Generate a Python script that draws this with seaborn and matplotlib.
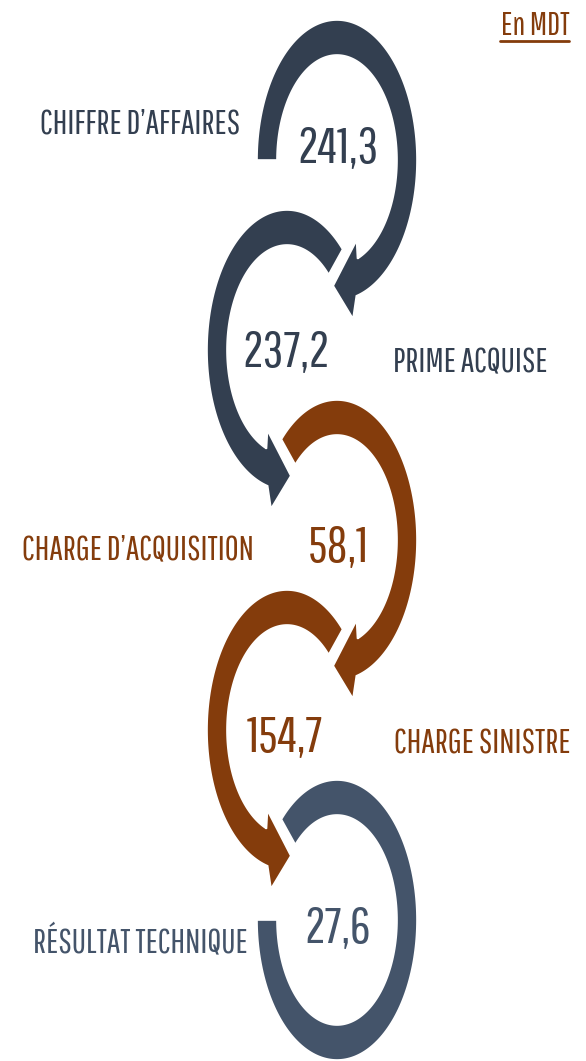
import numpy as np
import matplotlib
matplotlib.use("Agg")
import matplotlib.pyplot as plt
from matplotlib.patches import Polygon
import seaborn as sns

# data
labels = ["CHIFFRE D’AFFAIRES", "PRIME ACQUISE", "CHARGE D’ACQUISITION",
          "CHARGE SINISTRE", "RÉSULTAT TECHNIQUE"]
values = [241.3, 237.2, 58.1, 154.7, 27.6]
unit = "En MDT"

# styling / layout
DARK = "#333F50"
BROWN = "#843C0C"
SLATE = "#44546A"
ring_colors = [DARK, DARK, BROWN, BROWN, SLATE]
text_colors = [DARK, DARK, BROWN, BROWN, SLATE]
centers_x = [337, 287, 337, 287, 337]
centers_y = [160, 350, 540, 730, 920]
directions = [-1, 1, -1, 1, -1]        # -1 clockwise, 1 counter-clockwise
start_ang = [180, 46, 134, 46, 134]
has_head = [True, True, True, True, False]
label_side = ["left", "right", "left", "right", "left"]
label_x = [240, 393, 254, 394, 248]
label_base = [133, 372, 559, 754, 953]
num_x = [338, 286, 338, 285, 338]
num_base = [163, 367, 562, 752, 943]

R_IN, R_OUT, SY = 60, 80, 1.75

sns.set_theme(style="white")
plt.rcParams["font.family"] = ["Pathway Gothic One", "Barlow Condensed", "DejaVu Sans"]


def pt(cx, cy, r, a):
    t = np.radians(a)
    return cx + r * np.cos(t), cy - SY * r * np.sin(t)


def ring(ax, cx, cy, a0, d, head, color):
    if head:
        bot = -90 if d < 0 else 270
        off = -d  # offsets mirrored with direction
        out_end = bot + off * 14
        in_end = bot + off * 20
    else:
        out_end = in_end = a0 + d * 314
    outer = [pt(cx, cy, R_OUT, a) for a in np.linspace(a0, out_end, 200)]
    inner = [pt(cx, cy, R_IN, a) for a in np.linspace(in_end, a0, 200)]
    poly = list(outer)
    if head:
        poly.append(pt(cx, cy, 92, bot + off * 10))
        poly.append(pt(cx, cy, 72, bot - off * 3))
        poly.append(pt(cx, cy, 50, bot + off * 23))
    poly += inner
    ax.add_patch(Polygon(poly, closed=True, facecolor=color,
                         edgecolor="white", linewidth=1.2, joinstyle="miter"))


fig = plt.figure(figsize=(5.86, 10.61), dpi=100)
ax = fig.add_axes([0, 0, 1, 1])
ax.set_xlim(0, 586)
ax.set_ylim(1061, 0)
ax.axis("off")

for i in range(len(values)):
    ring(ax, centers_x[i], centers_y[i], start_ang[i], directions[i],
         has_head[i], ring_colors[i])

for i, (lab, v) in enumerate(zip(labels, values)):
    ha = "right" if label_side[i] == "left" else "left"
    ax.text(label_x[i], label_base[i], lab, ha=ha, va="baseline",
            fontsize=24.5, color=text_colors[i])
    ax.text(num_x[i], num_base[i], f"{v:.1f}".replace(".", ","),
            ha="center", va="baseline", fontsize=37, color=text_colors[i])

ax.text(535, 35, unit, ha="center", va="baseline", fontsize=23, color=BROWN)
ax.plot([500, 569], [41, 41], color=BROWN, linewidth=2)

fig.savefig("out.png", dpi=100)
